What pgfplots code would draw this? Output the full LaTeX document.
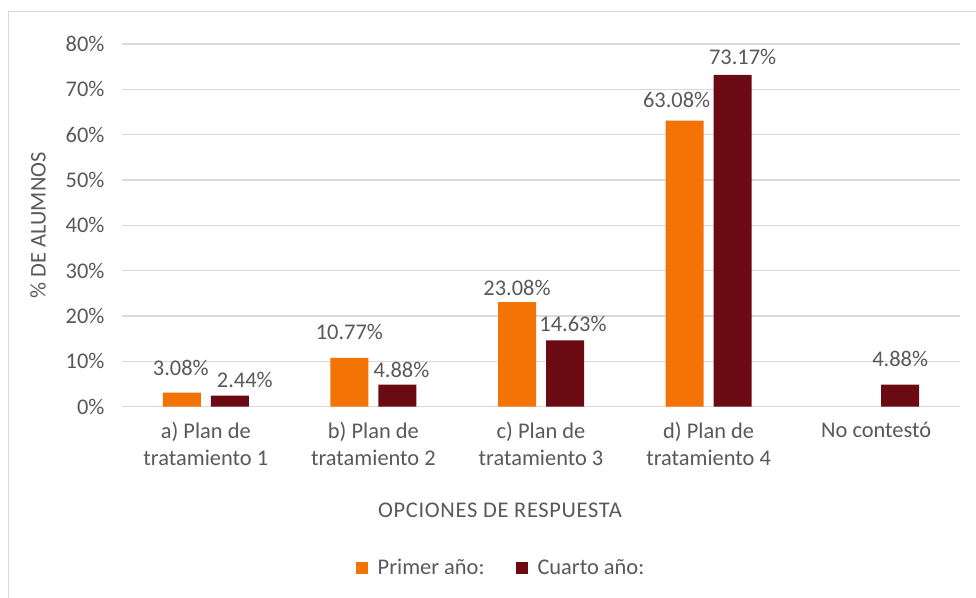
\documentclass[border=0pt]{standalone}
\usepackage{pgfplots}
\pgfplotsset{compat=1.18}
\usepackage{fontspec}
\setmainfont{Carlito}
\definecolor{orangeA}{HTML}{F47305}
\definecolor{darkA}{HTML}{6B0A13}
\definecolor{txt}{HTML}{595959}
\definecolor{grd}{HTML}{D9D9D9}
\begin{document}
\begin{tikzpicture}
\fill[white] (0,0) rectangle (976bp,598bp);
\draw[grd, line width=1.2bp] (8.5bp,-2bp) -- (8.5bp,586.5bp) -- (978bp,586.5bp);
\begin{axis}[
  at={(122bp,191.3bp)}, anchor=south west,
  scale only axis, width=838bp, height=362.7bp,
  xmin=-0.5, xmax=4.5, ymin=0, ymax=80,
  ybar=10bp, bar width=38bp,
  axis line style={draw=none},
  major tick length=0pt,
  ymajorgrids, grid style={grd, line width=1.2bp},
  ytick={0,10,...,80},
  yticklabels={0\%,10\%,20\%,30\%,40\%,50\%,60\%,70\%,80\%},
  xtick={0,1,2,3,4},
  xticklabels={{a) Plan de\\tratamiento 1},{b) Plan de\\tratamiento 2},{c) Plan de\\tratamiento 3},{d) Plan de\\tratamiento 4},{No contestó}},
  xticklabel style={align=center, font=\fontsize{22.5}{27}\selectfont, text=txt, yshift=-12bp},
  yticklabel style={font=\fontsize{22.5}{25}\selectfont, text=txt, xshift=-14bp},
  xlabel={OPCIONES DE RESPUESTA},
  xlabel style={at={(axis description cs:0.5,0)}, anchor=center, xshift=-41bp, yshift=-103.3bp, font=\fontsize{22.5}{25}\selectfont\addfontfeature{LetterSpace=3}, text=txt},
  ylabel={\% DE ALUMNOS},
  ylabel style={at={(axis description cs:-0.1002,0.5)}, anchor=center, font=\fontsize{22.5}{25}\selectfont, text=txt},
  /pgf/number format/assume math mode=true,
  visualization depends on={\thisrow{dx} \as \dx},
  visualization depends on={\thisrow{dy} \as \dy},
  nodes near coords={\pgfmathprintnumber[fixed,fixed zerofill,precision=2]{\pgfplotspointmeta}\%},
  nodes near coords style={font=\fontsize{22.5}{25}\selectfont, text=txt, anchor=base, inner sep=0pt, xshift={(\dx)*1bp}, yshift={(\dy)*1bp}},
  legend columns=2,
  legend style={at={(axis description cs:0.5,0)}, anchor=center, xshift=-40bp, yshift=-161.3bp, draw=none, fill=none, font=\fontsize{22.5}{25}\selectfont, text=txt, /tikz/every even column/.append style={column sep=29bp}},
  legend image code/.code={\fill[#1] (0bp,-6bp) rectangle (12bp,6bp); \path (20bp,0bp);},
]
\addplot[fill=orangeA, draw=none] table {
x y dx dy
0 3.08 -1 17
1 10.77 0 18
2 23.08 0 7
3 63.08 -8 13
};
\addplot[fill=darkA, draw=none] table {
x y dx dy
0 2.44 15 8
1 4.88 4 7.5
2 14.63 8 8.5
3 73.17 10 10
4 4.88 0 18
};
\legend{Primer año:, Cuarto año:}
\end{axis}
\pgfresetboundingbox
\path[use as bounding box] (0,0) rectangle (976bp,598bp);
\end{tikzpicture}
\end{document}
